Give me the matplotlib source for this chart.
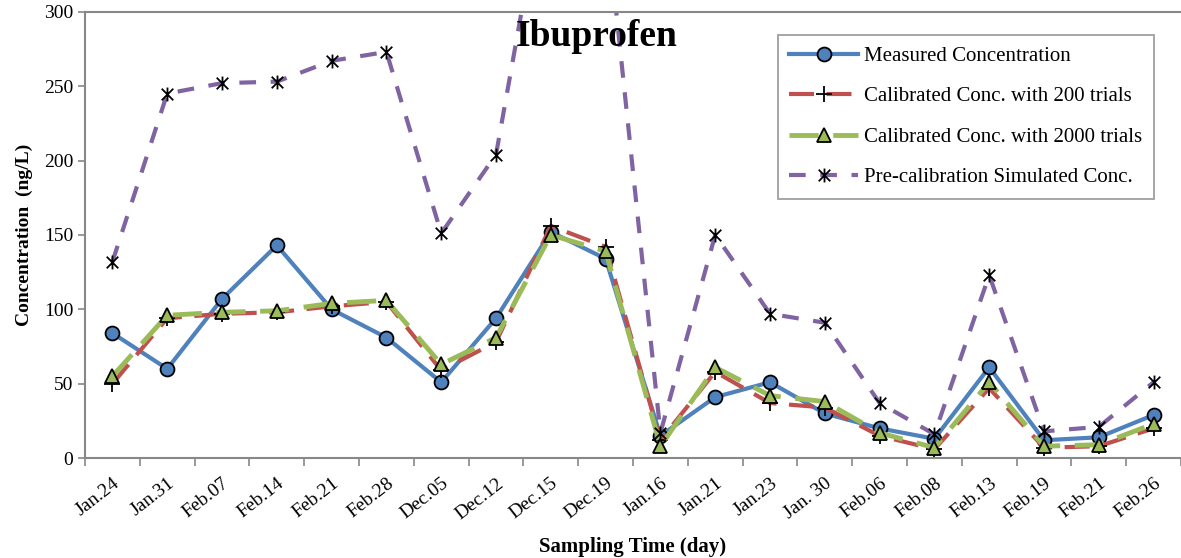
import numpy as np
import matplotlib.pyplot as plt
from matplotlib.path import Path

plt.rcParams['font.family'] = ['Liberation Serif', 'DejaVu Serif']

# sampling dates and concentrations (ng/L)
dates = ["Jan.24", "Jan.31", "Feb.07", "Feb.14", "Feb.21", "Feb.28", "Dec.05",
         "Dec.12", "Dec.15", "Dec.19", "Jan.16", "Jan.21", "Jan.23", "Jan. 30",
         "Feb.06", "Feb.08", "Feb.13", "Feb.19", "Feb.21", "Feb.26"]
measured = [84, 60, 107, 143, 100, 81, 51, 94, 152, 134,
            15, 41, 51, 30, 20, 13, 61, 12, 14, 29]
cal_200 = [50, 94, 97, 98, 102, 105, 59, 78, 156, 142,
           12, 58, 37, 34, 15, 6, 47, 7, 8, 20]
cal_2000 = [55, 96, 98, 99, 104, 106, 63, 81, 150, 139,
            8, 61, 42, 38, 17, 7, 51, 8, 9, 23]
pre_cal = [132, 245, 252, 253, 267, 273, 151, 204, 410, 368,
           17, 150, 97, 91, 37, 16, 123, 18, 21, 51]

# star marker: an X with a vertical bar through it
star = Path([(-1, -1), (1, 1), (-1, 1), (1, -1), (0, -1.2), (0, 1.2)],
            [Path.MOVETO, Path.LINETO] * 3)

x = np.arange(len(dates))

fig = plt.figure(figsize=(11.81, 5.58), dpi=100)
ax = fig.add_axes([0.072, 0.179, 0.928, 0.8])

ax.plot(x, measured, color="#4F81BD", lw=3, marker="o", ms=10,
        mfc="#4F81BD", mec="black", mew=1.3, label="Measured Concentration")
ax.plot(x, cal_200, color="#C0504D", lw=3, dashes=(6, 3), marker="+", ms=12,
        mec="black", mew=1.3, label="Calibrated Conc. with 200 trials")
ax.plot(x, cal_2000, color="#9BBB59", lw=3.5, dashes=(6, 3), marker="^", ms=10,
        mfc="#9BBB59", mec="black", mew=1.3,
        label="Calibrated Conc. with 2000 trials")
ax.plot(x, pre_cal, color="#8064A2", lw=3, dashes=(4, 3.5), marker=star, ms=10,
        mec="black", mew=1.3, label="Pre-calibration Simulated Conc.")

ax.set_xlim(-0.5, 19.46)
ax.set_ylim(0, 300)
ax.set_yticks(np.arange(0, 301, 50))
ax.set_xticks(x)
ax.set_xticklabels(dates, rotation=38, ha="right", rotation_mode="anchor",
                   fontsize=14)
ax.set_xticks(np.arange(-0.5, 20, 1), minor=True)
ax.tick_params(axis="x", which="major", length=0, pad=12)
ax.tick_params(axis="x", which="minor", length=6, color="#888888", width=1.2)
ax.tick_params(axis="y", length=5, color="#888888", width=1.2, labelsize=14)

for side in ["left", "bottom", "top"]:
    ax.spines[side].set_color("#888888")
    ax.spines[side].set_linewidth(1.5)
ax.spines["right"].set_visible(False)

ax.set_xlabel("Sampling Time (day)", fontsize=15, fontweight="bold", labelpad=10)
ax.set_ylabel("Concentration  (ng/L)", fontsize=14, fontweight="bold",
              labelpad=8)

fig.text(0.505, 0.935, "Ibuprofen", fontsize=27, fontweight="bold",
         ha="center", va="center")

leg = ax.legend(loc="upper left", bbox_to_anchor=(0.632, 0.948),
                borderaxespad=0, fontsize=15,
                frameon=True, fancybox=False, edgecolor="#888888",
                handlelength=3.3, labelspacing=1.0, borderpad=0.55,
                handletextpad=0.3)
leg.get_frame().set_linewidth(1.3)

fig.savefig("out.png", dpi=100)
